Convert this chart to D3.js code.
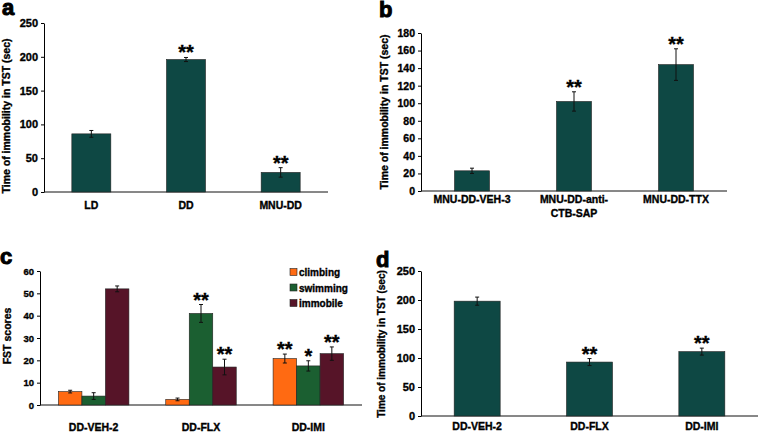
<!DOCTYPE html>
<meta charset="utf-8">
<style>
 body { margin: 0; background: #fff; }
 text { font-family: "Liberation Sans", Arial, sans-serif; font-weight: bold; fill: #000;
        stroke: #000; stroke-width: 0.35px; }
 .axis path, .axis line { stroke: #000; stroke-width: 1px; }
 .axis text { fill: #000; }
 .bar { stroke: #222; stroke-width: 0.6px; }
 .err { stroke: #111; stroke-width: 1px; }
</style>
<svg class="chart" width="758" height="433"></svg>
<script src="https://cdn.jsdelivr.net/npm/d3@7"></script>
<script>

 // panel a
 var aCats = ["LD", "DD", "MNU-DD"];
 var aVals = [86, 196, 29];
 var aErr = [5, 3, 7];
 var aSig = ["", "**", "**"];

 // panel b
 var bCats = ["MNU-DD-VEH-3", "MNU-DD-anti-|CTB-SAP", "MNU-DD-TTX"];
 var bVals = [23, 102, 144];
 var bErr = [3, 11, 18];
 var bSig = ["", "**", "**"];

 // panel c
 var cCats = ["DD-VEH-2", "DD-FLX", "DD-IMI"];
 var cSeries = ["climbing", "swimming", "immobile"];
 var cClimb = [6, 2.5, 20.8];
 var cSwim = [4, 41, 17.5];
 var cImmob = [52, 17, 23];
 var cClimbErr = [0.6, 0.6, 2];
 var cSwimErr = [1.5, 4, 2.3];
 var cImmobErr = [1.3, 3.5, 3];
 var cClimbSig = ["", "", "**"];
 var cSwimSig = ["", "**", "*"];
 var cImmobSig = ["", "**", "**"];

 // panel d
 var dCats = ["DD-VEH-2", "DD-FLX", "DD-IMI"];
 var dVals = [198, 93, 111];
 var dErr = [7, 6, 6];
 var dSig = ["", "**", "**"];

 var teal = "#0e4844";
 var seriesColors = ["#ff6a12", "#1b5f31", "#561428"];

 var svg = d3.select(".chart");

 function panel(p) {
     var g = svg.append("g");
     var x = d3.scalePoint().domain(p.cats).range([p.x0, p.x1]).padding(0.5);
     var y = d3.scaleLinear().domain([0, p.ymax]).range([p.yb, p.yt]);

     g.append("g").attr("class", "axis")
      .attr("transform", "translate(" + p.x0 + ",0)")
      .call(d3.axisLeft(y).tickValues(d3.range(0, p.ymax + 1, p.step)).tickSize(3).tickSizeOuter(0).tickPadding(3))
      .call(function(a) { a.selectAll("text").attr("font-size", p.tickFont); });

     g.append("line").attr("class", "err")
      .attr("x1", p.x0).attr("x2", p.x1).attr("y1", y(0)).attr("y2", y(0));

     // x labels (| splits lines)
     p.cats.forEach(function(c) {
         var t = g.append("text").attr("text-anchor", "middle").attr("font-size", 10.5)
                  .attr("x", x(c)).attr("y", p.labelY);
         c.split("|").forEach(function(s, i) {
             t.append("tspan").attr("x", x(c)).attr("dy", i ? 14 : 0).text(s);
         });
     });

     g.append("text").attr("font-size", p.titleFont).attr("text-anchor", "middle")
      .attr("transform", "translate(" + p.titleX + "," + p.titleY + ") rotate(-90)")
      .text(p.title);

     g.append("text").attr("font-size", 22).style("stroke-width", "1px")
      .attr("x", p.letterX).attr("y", p.letterY).text(p.letter);

     p.series.forEach(function(s, si) {
         var n = p.series.length;
         var off = (si - (n - 1) / 2) * p.bw;
         var bars = g.append("g");
         p.cats.forEach(function(c, i) {
             var cx = x(c) + off;
             var v = s.vals[i], e = s.err[i];
             bars.append("rect").attr("class", "bar").attr("fill", s.color)
                 .attr("x", cx - p.bw / 2).attr("width", p.bw)
                 .attr("y", y(v)).attr("height", y(0) - y(v));
             bars.append("line").attr("class", "err").attr("x1", cx).attr("x2", cx)
                 .attr("y1", y(v - e)).attr("y2", y(v + e));
             bars.append("line").attr("class", "err").attr("x1", cx - 2).attr("x2", cx + 2)
                 .attr("y1", y(v + e)).attr("y2", y(v + e));
             bars.append("line").attr("class", "err").attr("x1", cx - 2).attr("x2", cx + 2)
                 .attr("y1", y(v - e)).attr("y2", y(v - e));
             if (s.sig[i]) {
                 bars.append("text").attr("text-anchor", "middle").attr("font-size", 20)
                     .attr("x", cx).attr("y", y(v + e) + 2).text(s.sig[i]);
             }
         });
     });
     return g;
 }

 panel({ cats: aCats, x0: 44, x1: 328, yb: 192, yt: 23, ymax: 250, step: 50, bw: 39,
         labelY: 209, title: "Time of immobility in TST (sec)", titleX: 10, titleY: 116,
         tickFont: 11, titleFont: 10.5,
         letter: "a", letterX: 2, letterY: 15,
         series: [{ vals: aVals, err: aErr, sig: aSig, color: teal }] });

 panel({ cats: bCats, x0: 421, x1: 727, yb: 191, yt: 33, ymax: 180, step: 20, bw: 35,
         labelY: 203, title: "Time of immobility in TST (sec)", titleX: 388, titleY: 112,
         tickFont: 10.5, titleFont: 10.5,
         letter: "b", letterX: 379, letterY: 17,
         series: [{ vals: bVals, err: bErr, sig: bSig, color: teal }] });

 var gc = panel({ cats: cCats, x0: 40, x1: 362, yb: 405, yt: 271, ymax: 60, step: 10, bw: 23.5,
         labelY: 431, title: "FST scores", titleX: 11, titleY: 336,
         tickFont: 9.5, titleFont: 10.5,
         letter: "c", letterX: 0, letterY: 264,
         series: [{ vals: cClimb, err: cClimbErr, sig: cClimbSig, color: seriesColors[0] },
                  { vals: cSwim, err: cSwimErr, sig: cSwimSig, color: seriesColors[1] },
                  { vals: cImmob, err: cImmobErr, sig: cImmobSig, color: seriesColors[2] }] });

 var leg = gc.append("g").selectAll("g").data(cSeries).enter().append("g")
             .attr("transform", function(d, i) { return "translate(290," + (272 + i * 15.5) + ")"; });
 leg.append("rect").attr("x", 0).attr("y", -3.5).attr("width", 7).attr("height", 7)
    .attr("fill", function(d, i) { return seriesColors[i]; }).attr("stroke", "#222").attr("stroke-width", 0.6);
 leg.append("text").attr("x", 9).attr("y", 4).attr("font-size", 10).text(function(d) { return d; });

 panel({ cats: dCats, x0: 421, x1: 758, yb: 416, yt: 271, ymax: 250, step: 50, bw: 46,
         labelY: 430, title: "Time of immobility in TST (sec)", titleX: 385, titleY: 344,
         tickFont: 11, titleFont: 10,
         letter: "d", letterX: 376, letterY: 267,
         series: [{ vals: dVals, err: dErr, sig: dSig, color: teal }] });

</script>
